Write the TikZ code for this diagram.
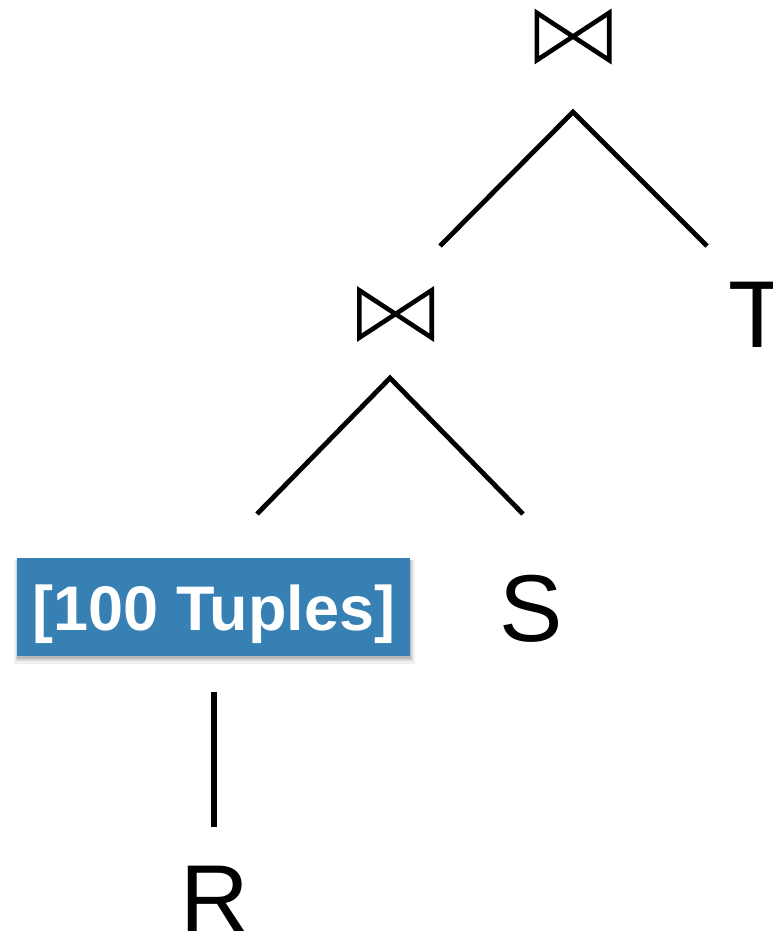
\documentclass[tikz,border=0pt]{standalone}
\usepackage{fontspec}
\setmainfont{Liberation Sans}
\definecolor{tupleblue}{RGB}{54,128,180}
\begin{document}
\begin{tikzpicture}[x=1pt,y=-1pt,
  edge/.style={line width=4.8pt, line cap=butt, line join=miter},
  bowtie/.style={minimum width=72pt, minimum height=47pt, inner sep=0pt},
  bowline/.style={line width=4.6pt, line join=miter, miter limit=2.5},
  leaf/.style={font=\fontsize{95}{95}\selectfont, inner sep=0pt, anchor=base},
  tuplebox/.style={fill=tupleblue, minimum width=393pt, minimum height=98pt, inner sep=0pt},
  tupletext/.style={text=white, font=\bfseries\fontsize{63}{63}\selectfont, inner sep=0pt, anchor=base}]
\useasboundingbox (0,0) rectangle (773,935);
\clip (0,0) rectangle (773,935);

% join operators
\node[bowtie] (j1) at (573,36.5) {};
\node[bowtie] (j2) at (395.5,314) {};
\foreach \j in {j1,j2}{
  \draw[bowline] (\j.north west) -- (\j.south west) -- (\j.north east) -- (\j.south east) -- cycle;
}

% leaves
\node[leaf] (T) at (758,347) {T};
\node[leaf] (S) at (531,641) {S};
\node[leaf] (R) at (215,931) {R};

% annotated box with soft shadow
\fill[black,opacity=0.06] (14,560) rectangle (415,664);
\fill[black,opacity=0.10] (16,560) rectangle (413,661);
\fill[black,opacity=0.14] (17,560) rectangle (411,659);
\node[tuplebox] (rbox) at (213.5,607) {};
\node[tupletext] (rboxtext) at (214,630) {[100 Tuples]};

% connector end points
\coordinate (a1) at (573,112);
\coordinate (c2) at (440,246);
\coordinate (cT) at (707,246);
\coordinate (a2) at (390,378);
\coordinate (cbox) at (257,514);
\coordinate (cS) at (523,514);
\coordinate (boxbot) at (214,692);
\coordinate (rtop) at (214,827);

\draw[edge] (c2) -- (a1) -- (cT);
\draw[edge] (cbox) -- (a2) -- (cS);
\draw[edge, line width=5.2pt] (boxbot) -- (rtop);
\end{tikzpicture}
\end{document}
